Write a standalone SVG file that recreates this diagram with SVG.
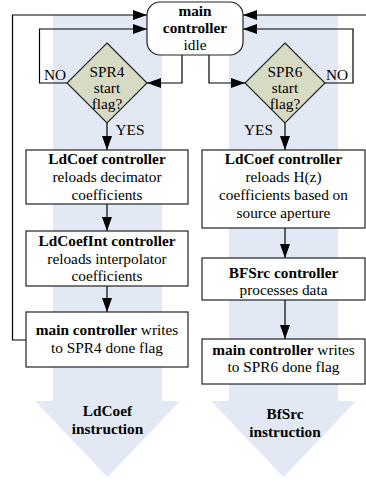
<svg xmlns="http://www.w3.org/2000/svg" width="366" height="482" viewBox="0 0 366 482">
<defs>
<marker id="ah" markerUnits="userSpaceOnUse" markerWidth="14" markerHeight="10" refX="14" refY="5" orient="auto">
<path d="M0,0 L14,5 L0,10 z" fill="#000"/>
</marker>
<style>
.bg{fill:#e2e9f5;stroke:none}
.ln{fill:none;stroke:#000;stroke-width:1.2;marker-end:url(#ah)}
.box{fill:#fff;stroke:#222;stroke-width:1.2}
.dia{fill:#d7dbc4;stroke:#222;stroke-width:1.2}
text{font-family:"Liberation Serif","Times New Roman",serif;font-size:15.3px;fill:#000;text-anchor:middle}
.b{font-weight:bold}
</style>
</defs>
<g id="bg-arrows">
<polygon class="bg" points="53,15 162,15 162,401 180,401 107.5,477 35,401 53,401"/>
<polygon class="bg" points="229,15 338,15 338,401 356,401 283.5,477 211,401 229,401"/>
<text class="b" x="107.5" y="416">LdCoef</text>
<text class="b" x="107.5" y="434">instruction</text>
<text class="b" x="285" y="419">BfSrc</text>
<text class="b" x="285" y="437">instruction</text>
</g>
<g id="connectors">
<path class="ln" d="M26,340 H12.5 V15 H147"/>
<path class="ln" d="M67,83 H39.5 V29 H147"/>
<path class="ln" d="M182,55 V83 H147"/>
<path class="ln" d="M209,55 V83 H245"/>
<path class="ln" d="M325,83 H353 V29 H243"/>
<path class="ln" d="M366,15 H243"/>
<path class="ln" d="M107,123 V150"/>
<path class="ln" d="M107,204 V231"/>
<path class="ln" d="M107,286 V312"/>
<path class="ln" d="M285,123 V150"/>
<path class="ln" d="M285,228 V258"/>
<path class="ln" d="M285,300 V339"/>
<text x="55" y="80">NO</text>
<text x="337" y="80">NO</text>
<text x="130" y="135">YES</text>
<text x="258.5" y="135">YES</text>
</g>
<g id="main">
<rect class="box" x="147" y="2" width="96" height="53" rx="13"/>
<text class="b" x="195" y="16">main</text>
<text class="b" x="195" y="33">controller</text>
<text x="195" y="50">idle</text>
</g>
<g id="spr4">
<polygon class="dia" points="107,43 147,83 107,123 67,83"/>
<text x="107" y="77">SPR4</text>
<text x="107" y="93">start</text>
<text x="107" y="109">flag?</text>
</g>
<g id="spr6">
<polygon class="dia" points="285,43 325,83 285,123 245,83"/>
<text x="285" y="77">SPR6</text>
<text x="285" y="93">start</text>
<text x="285" y="109">flag?</text>
</g>
<g id="ldcoef-left">
<rect class="box" x="26" y="150" width="162" height="54"/>
<text class="b" x="107" y="164">LdCoef controller</text>
<text x="107" y="182">reloads decimator</text>
<text x="107" y="200">coefficients</text>
</g>
<g id="ldcoefint">
<rect class="box" x="26" y="231" width="162" height="55"/>
<text class="b" x="107" y="246">LdCoefInt controller</text>
<text x="107" y="264">reloads interpolator</text>
<text x="107" y="281">coefficients</text>
</g>
<g id="done4">
<rect class="box" x="26" y="312" width="162" height="55"/>
<text x="107" y="335"><tspan class="b">main controller</tspan> writes</text>
<text x="107" y="353">to SPR4 done flag</text>
</g>
<g id="ldcoef-right">
<rect class="box" x="202" y="150" width="163" height="78"/>
<text class="b" x="283.5" y="164">LdCoef controller</text>
<text x="283.5" y="182">reloads H(z)</text>
<text x="283.5" y="200">coefficients based on</text>
<text x="283.5" y="218">source aperture</text>
</g>
<g id="bfsrc">
<rect class="box" x="202" y="258" width="163" height="42"/>
<text class="b" x="283.5" y="278">BFSrc controller</text>
<text x="283.5" y="295">processes data</text>
</g>
<g id="done6">
<rect class="box" x="202" y="339" width="163" height="45"/>
<text x="283.5" y="355"><tspan class="b">main controller</tspan> writes</text>
<text x="283.5" y="372">to SPR6 done flag</text>
</g>
</svg>
